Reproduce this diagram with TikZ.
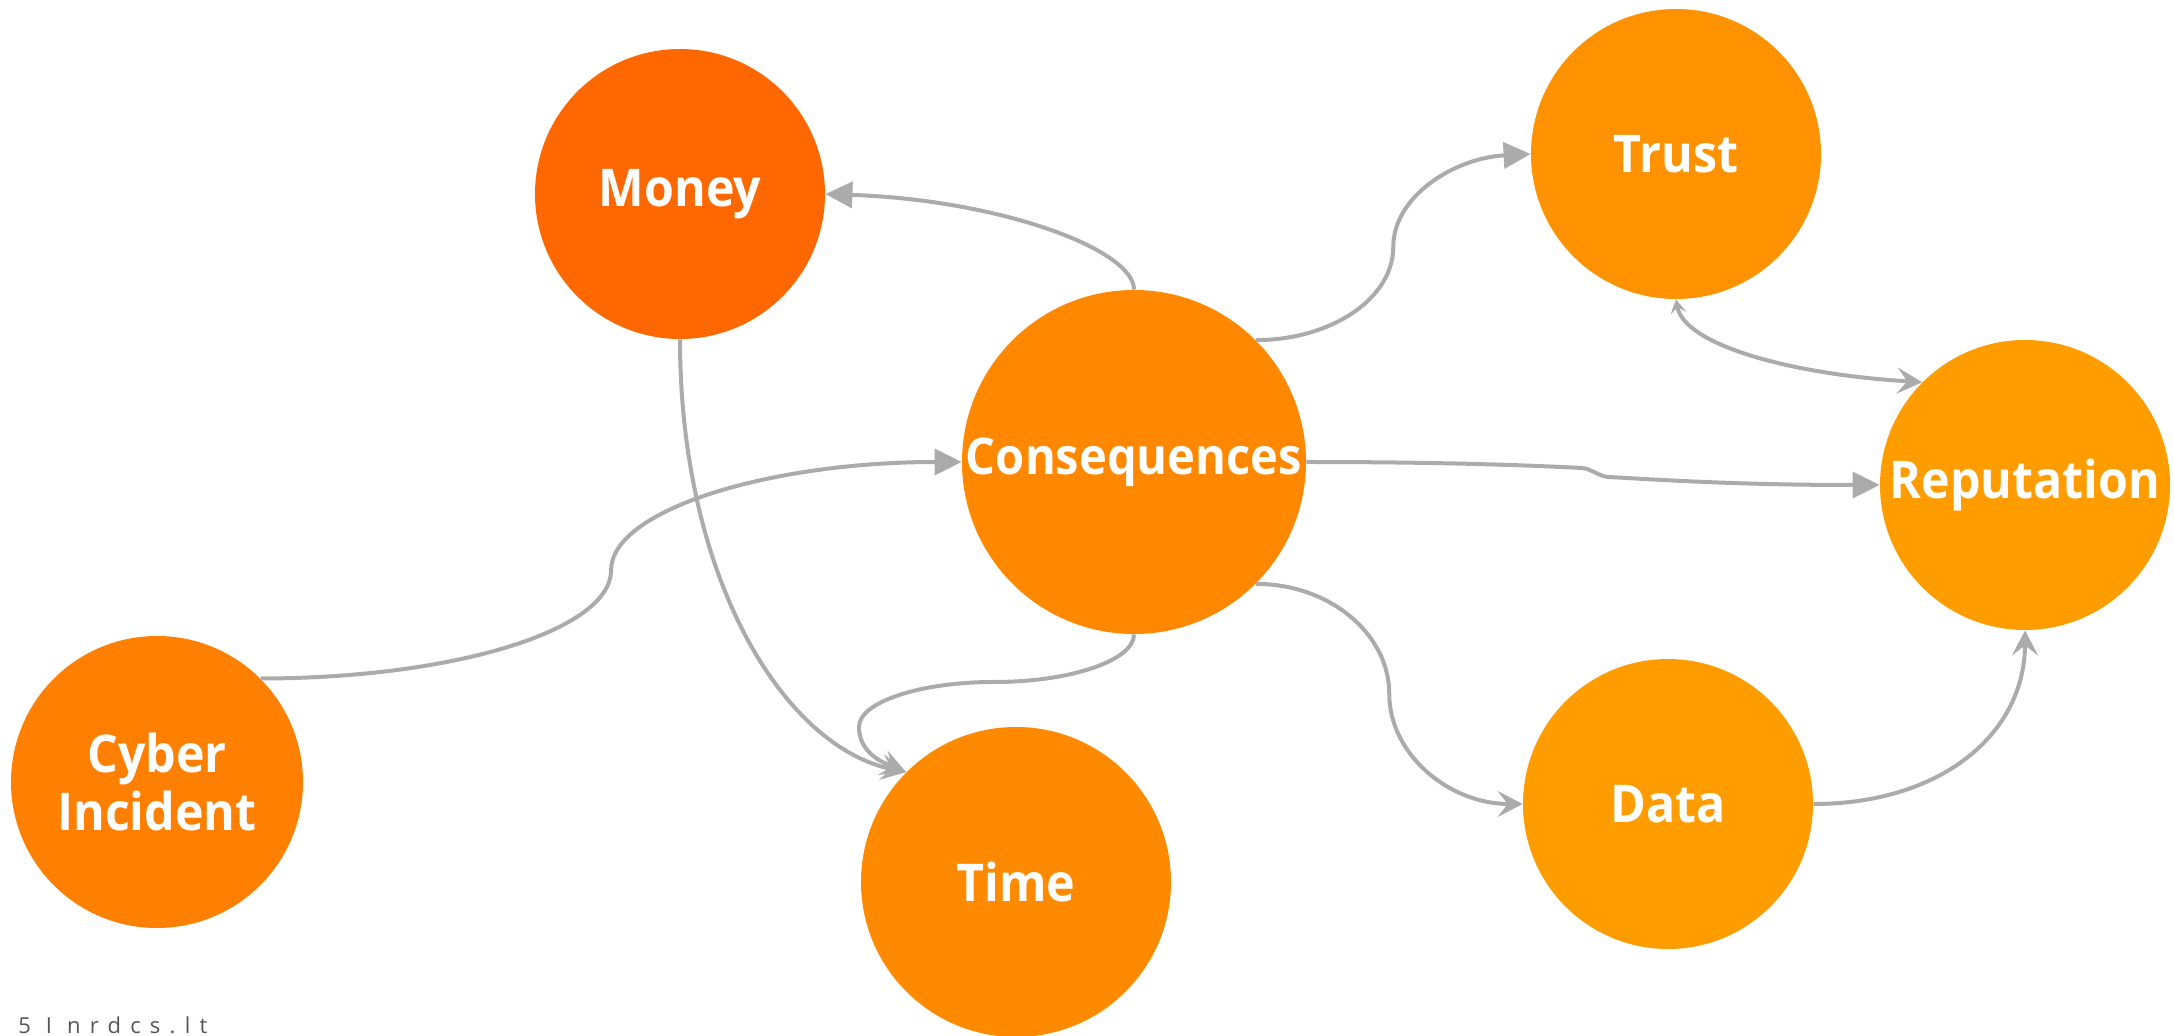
\documentclass[tikz,border=0pt]{standalone}
\usepackage{fontspec}
\setmainfont{Open Sans}
\newfontfamily\nodefont{Open Sans}[BoldFeatures={FakeStretch=0.93}]
\usetikzlibrary{arrows.meta,calc}
\definecolor{cmoney}{HTML}{FF6800}
\definecolor{ccyber}{HTML}{FF7F00}
\definecolor{ccons}{HTML}{FF8800}
\definecolor{ctime}{HTML}{FF8A00}
\definecolor{ctrust}{HTML}{FF9200}
\definecolor{crep}{HTML}{FF9C00}
\definecolor{cdata}{HTML}{FF9C00}
\definecolor{linkgray}{HTML}{ABABAB}
\definecolor{footgray}{HTML}{555555}
\begin{document}
\begin{tikzpicture}[x=0.5pt,y=-0.5pt,
  bubble/.style={circle,inner sep=0pt,text=white,align=center,
    font=\nodefont\bfseries\fontsize{26}{29}\selectfont},
  link/.style={draw=linkgray,line width=2pt},
  tri/.style={-{Triangle[length=13.5pt,width=13pt]}},
  stl/.style={-{Stealth[length=12.5pt,width=13pt,inset=5pt]}},
]
\useasboundingbox (0,0) rectangle (2174,1036);

\node[bubble,fill=cmoney,minimum size=145pt] (money) at (680,194) {Money};
\node[bubble,fill=ccons,minimum size=172pt,font=\nodefont\bfseries\fontsize{25.3}{29}\selectfont] (cons) at (1134,462) {Consequences};
\node[bubble,fill=ctrust,minimum size=145pt] (trust) at (1676,154) {Trust};
\node[bubble,fill=crep,minimum size=145pt] (rep) at (2025,485) {Reputation};
\node[bubble,fill=ccyber,minimum size=146pt] (cyber) at (157,782) {Cyber\\Incident};
\node[bubble,fill=ctime,minimum size=155pt] (time) at (1016,882) {Time};
\node[bubble,fill=cdata,minimum size=145pt] (data) at (1668,804) {Data};

\node[anchor=base west,inner sep=0pt,text=footgray,
  font=\fontsize{11}{13}\selectfont\addfontfeature{LetterSpace=42}] (foot) at (18,1033) {5 I nrdcs.lt};

% Consequences -> Money
\draw[link,tri] (cons.north) .. controls +(0,-40) and +(175,6) .. (money.east);
% Consequences -> Trust
\coordinate (m1) at ($(cons.45)!.5!(trust.west)$);
\draw[link,tri] (cons.45) .. controls +(76,0) and +(0,51) .. (m1)
  .. controls +(0,-51) and +(-76,4) .. (trust.west);
% Consequences -> Reputation
\coordinate (k1) at (1582,468);
\coordinate (k2) at (1608,477);
\draw[link,tri] (cons.east) .. controls +(150,0) and +(-40,-2) .. (k1)
  .. controls +(10,1) and +(-10,-1) .. (k2)
  .. controls +(40,2) and +(-150,0) .. (rep.west);
% Trust <-> Reputation
\draw[link,{Stealth[length=7pt,width=8pt,inset=3pt]}-{Stealth[length=12.5pt,width=13pt,inset=5pt]}]
  (trust.south) .. controls +(8,45) and +(-134,-8) .. (rep.135);
% Cyber Incident -> Consequences
\coordinate (m2) at ($(cyber.45)!.5!(cons.west)$);
\draw[link,tri] (cyber.45) .. controls +(193,0) and +(0,60) .. (m2)
  .. controls +(0,-60) and +(-193,0) .. (cons.west);
% Money -> Time
\draw[link,stl] (money.south) .. controls +(0,238) and +(-123,-25) .. (time.135);
% Consequences -> Time
\coordinate (t1) at (994,682);
\coordinate (t2) at (859,727);
\draw[link,stl] (cons.south) .. controls +(0,26) and +(77,0) .. (t1)
  .. controls +(-74,0) and +(0,-25) .. (t2)
  .. controls +(0,25) and +(-25,-10) .. (time.135);
% Consequences -> Data
\coordinate (m3) at ($(cons.-45)!.5!(data.west)$);
\draw[link,stl] (cons.-45) .. controls +(74,0) and +(0,-60) .. (m3)
  .. controls +(0,60) and +(-74,0) .. (data.west);
% Data -> Reputation
\draw[link,stl] (data.east) .. controls +(127,0) and +(0,104) .. (rep.south);
\end{tikzpicture}
\end{document}
